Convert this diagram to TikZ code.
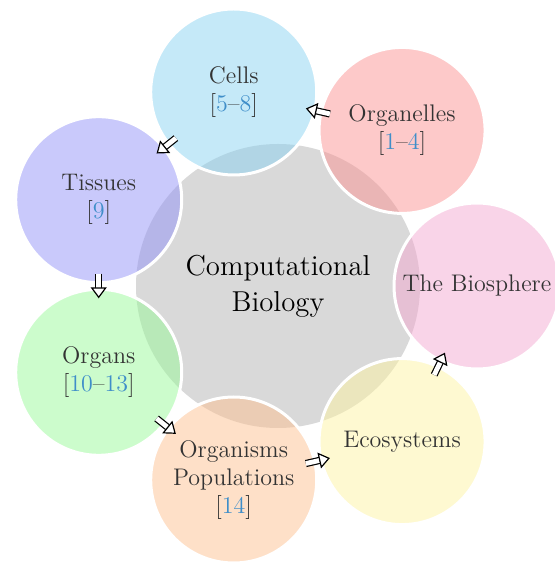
\documentclass[tikz,border=0pt]{standalone}
\usepackage{tikz}
\usetikzlibrary{arrows.meta}
\definecolor{citeblue}{RGB}{63,142,201}
\definecolor{cellcol}{RGB}{139,211,241}
\definecolor{organellecol}{RGB}{251,147,147}
\definecolor{spherecol}{RGB}{243,169,209}
\definecolor{ecocol}{RGB}{253,243,163}
\definecolor{organismcol}{RGB}{253,193,145}
\definecolor{organcol}{RGB}{153,249,153}
\definecolor{tissuecol}{RGB}{147,147,247}
\newcommand{\cit}[1]{{\color{citeblue}#1}}

\begin{document}
\begin{tikzpicture}[x=0.5pt, y=0.5pt,
    hubnode/.style={circle, fill=gray!30, inner sep=0pt,
      minimum size=142pt, align=center, font=\Large},
    bubble/.style={circle, draw=white, line width=1.5pt,
      fill opacity=0.5, text opacity=1, minimum size=83pt,
      inner sep=0pt, align=center, text=black!80, font=\large},
    stagearrow/.style={double=white, double distance=2.4pt,
      line width=0.6pt, shorten <=37pt, shorten >=37pt,
      -{Triangle[open, fill=white, length=5.5pt, width=8pt]}}, ]
  \useasboundingbox (0,0) rectangle (555,567);
  % Hub
  \node[hubnode] (compbio) at (278,281) {Computational\\Biology};
  % Bubbles
  \begin{scope}[shift={(compbio.center)}]
    \node[bubble, fill=spherecol] (biosphere) at (0:199) {The Biosphere};
    \node[bubble, fill=organellecol] (organelles) at (51.43:199) {Organelles\\{}[\cit{1}--\cit{4}]};
    \node[bubble, fill=cellcol] (cells) at (102.86:199) {Cells\\{}[\cit{5}--\cit{8}]};
    \node[bubble, fill=tissuecol] (tissues) at (154.29:199) {Tissues\\{}[\cit{9}]};
    \node[bubble, fill=organcol] (organs) at (205.71:199) {Organs\\{}[\cit{10}--\cit{13}]};
    \node[bubble, fill=organismcol] (organisms) at (257.14:199) {Organisms\\Populations\\{}[\cit{14}]};
    \node[bubble, fill=ecocol] (ecosystems) at (308.57:199) {Ecosystems};
  \end{scope}
  % Arrows
  \draw[stagearrow] (organelles.center) -- (cells.center);
  \draw[stagearrow] (cells.center) -- (tissues.center);
  \draw[stagearrow] (tissues.center) -- (organs.center);
  \draw[stagearrow] (organs.center) -- (organisms.center);
  \draw[stagearrow] (organisms.center) -- (ecosystems.center);
  \draw[stagearrow] (ecosystems.center) -- (biosphere.center);
\end{tikzpicture}
\end{document}
